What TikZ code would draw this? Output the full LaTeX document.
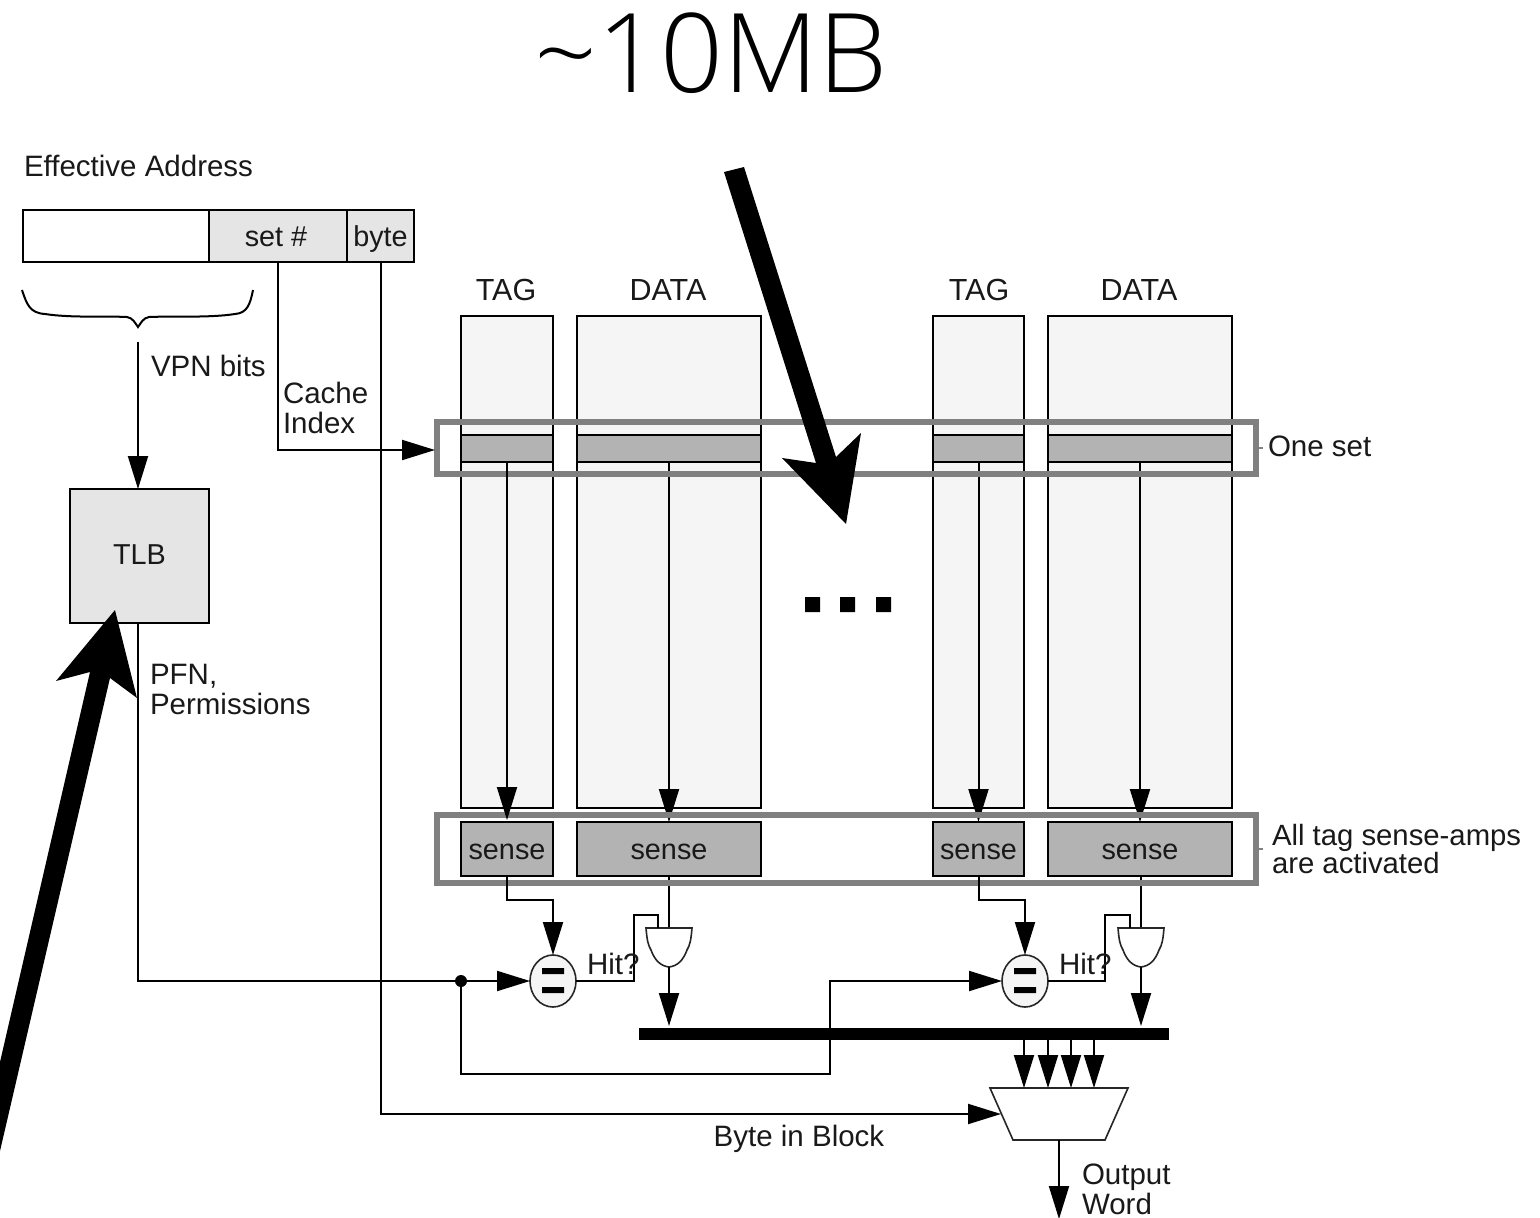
\documentclass[tikz,border=0pt]{standalone}
\usepackage{fontspec}
\setmainfont{Liberation Sans}
\newfontfamily\lightfont{Open Sans Light}
\usetikzlibrary{arrows.meta,shapes.geometric,calc}
\definecolor{fieldgrey}{HTML}{E5E5E5}
\definecolor{colgrey}{HTML}{F5F5F5}
\definecolor{stripgrey}{HTML}{B3B3B3}
\definecolor{bandgrey}{HTML}{808080}
\tikzset{
  lbl/.style={inner sep=0pt,outer sep=0pt,align=left,font=\fontsize{29.5}{30}\selectfont,text=black!90},
  lblw/.style={lbl,anchor=west},
  headlbl/.style={lbl,font=\fontsize{30.5}{30}\selectfont},
  cell/.style n args={3}{draw=black,line width=2pt,fill=#3,inner sep=0pt,outer sep=0pt,anchor=north west,
     minimum width=#1pt,minimum height=#2pt,text height=20pt,text depth=0pt,font=\fontsize{28.8}{30}\selectfont,text=black!90},
  conn/.style={draw=black,line width=2pt},
  arr/.style={conn,-{Triangle[length=33pt,width=20pt]}},
  band/.style={draw=bandgrey,line width=5.5pt},
  leader/.style={draw=bandgrey,line width=1.5pt},
  gate/.style={draw=black!85,line width=1.6pt,fill=white},
  eqnode/.style={ellipse,draw=black!85,line width=1.6pt,fill=colgrey,inner sep=0pt,outer sep=0pt,minimum width=46pt,minimum height=52pt},
  bigarrow/.style={fill=black,draw=none},
}
\begin{document}
\begin{tikzpicture}[x=1pt,y=-1pt]
\useasboundingbox[fill=white] (0,0) rectangle (1540,1218);

% title
\node[inner sep=0pt,anchor=base,font=\fontsize{110}{110}\selectfont\lightfont] (title) at (711,92) {\string~10MB};
\node[lblw] (ea) at (24,166) {Effective Address};

% address
\node[cell={186}{52}{white}] (addr) at (23,210) {};
\node[cell={138}{52}{fieldgrey}] (setn) at (209,210) {\hspace*{-4pt}set \#};
\node[cell={67}{52}{fieldgrey}] (byte) at (347,210) {byte};

% brace
\draw[line width=2pt] (22,290) .. controls (27,305) and (30,313) .. (45,314)
  .. controls (70,318) and (110,316) .. (127,317) .. controls (133,318) and (135,323) .. (138,327)
  .. controls (141,323) and (143,318) .. (149,317) .. controls (170,316) and (210,318) .. (235,314)
  .. controls (247,313) and (250,305) .. (253,290);

% TLB
\node[cell={139}{134}{fieldgrey},text depth=3pt] (tlb) at (70,489) {TLB};
\coordinate (vpn) at (138,342);

% columns
\node[cell={92}{492}{colgrey}] (tag1) at (461,316) {};
\node[cell={184}{492}{colgrey}] (data1) at (577,316) {};
\node[cell={91}{492}{colgrey}] (tag2) at (933,316) {};
\node[cell={184}{492}{colgrey}] (data2) at (1048,316) {};
\node[headlbl] (tl1) at (506,290) {TAG};
\node[headlbl] (dl1) at (668,290) {DATA};
\node[headlbl] (tl2) at (979,290) {TAG};
\node[headlbl] (dl2) at (1139,290) {DATA};

% set strips
\node[cell={92}{27}{stripgrey}] (st1) at (461,435) {};
\node[cell={184}{27}{stripgrey}] (sd1) at (577,435) {};
\node[cell={91}{27}{stripgrey}] (st2) at (933,435) {};
\node[cell={184}{27}{stripgrey}] (sd2) at (1048,435) {};

% sense amps
\node[cell={92}{54}{stripgrey}] (at1) at (461,822) {sense};
\node[cell={184}{54}{stripgrey}] (ad1) at (577,822) {sense};
\node[cell={91}{54}{stripgrey}] (at2) at (933,822) {sense};
\node[cell={184}{54}{stripgrey}] (ad2) at (1048,822) {sense};

% comparators
\node[eqnode] (eq1) at (553,981) {};
\node[eqnode] (eq2) at (1025,981) {};
\fill[black] (542,968) rectangle (564,974) (542,987) rectangle (564,993);
\fill[black] (1014,968) rectangle (1036,974) (1014,987) rectangle (1036,993);

% bus
\node[fill=black,inner sep=0pt,outer sep=0pt,anchor=north west,minimum width=530pt,minimum height=12pt] (bus) at (639,1028) {};

% column read lines
\draw[arr] (sd1.south) -- (ad1.north);
\draw[arr] (st2.south) -- (at2.north);
\draw[arr] (sd2.south) -- (ad2.north);

% data to gates
\coordinate (g1t) at (669,928);
\coordinate (g1b) at (669,967);
\coordinate (g2t) at (1141,928);
\coordinate (g2b) at (1141,967);
\coordinate (g1h) at (658,928);
\coordinate (g2h) at (1130,928);
\coordinate (b1) at (669,1026);
\coordinate (b2) at (1141,1026);
\draw[conn] (g1t |- ad1.south) -- (g1t);
\draw[conn] (g2t |- ad2.south) -- (g2t);

% grey bands
\draw[band] (437,422) rectangle (1256,474);
\draw[band] (437,815) rectangle (1256,883);
\coordinate (os) at (1263,448);
\coordinate (oa) at (1263,849);
\draw[leader] (1258,448) -- (os);
\draw[leader] (1258,849) -- (oa);
\draw[arr] (st1.south) -- ([yshift=2pt]at1.north);

\node[lblw] at (1268,446) (oneset) {One set};
\node[lblw,font=\fontsize{29.3}{28}\selectfont] at (1272,849) (alltag) {All tag sense-amps\\are activated};

% gates
\begin{scope}[shift={(669,928)}]
\draw[gate] (-23,0) -- (23,0) .. controls (22,12) and (21,17) .. (18,22) .. controls (14,33) and (8,38) .. (0,39)
  .. controls (-8,38) and (-14,33) .. (-18,22) .. controls (-21,17) and (-22,12) .. (-23,0) -- cycle;
\end{scope}
\begin{scope}[shift={(1141,928)}]
\draw[gate] (-23,0) -- (23,0) .. controls (22,12) and (21,17) .. (18,22) .. controls (14,33) and (8,38) .. (0,39)
  .. controls (-8,38) and (-14,33) .. (-18,22) .. controls (-21,17) and (-22,12) .. (-23,0) -- cycle;
\end{scope}
\draw[arr] (g1b) -- (b1);
\draw[arr] (g2b) -- (b2);

% sense to comparators
\draw[arr] (at1.south) -- ++(0,24) -| (eq1.north);
\draw[arr] (at2.south) -- ++(0,24) -| (eq2.north);

% hit lines
\draw[conn] (eq1.east) -- (634,981) -- (634,915) -- (658,915) -- (g1h);
\draw[conn] (eq2.east) -- (1105,981) -- (1105,915) -- (1130,915) -- (g2h);
\node[lblw] (hit1) at (587,964) {Hit?};
\node[lblw] (hit2) at (1059,964) {Hit?};

% left connectors
\draw[arr] (vpn) -- (vpn |- tlb.north);
\node[lblw] (vpnl) at (151,366) {VPN bits};
\coordinate (setx) at (278,262);
\coordinate (bytex) at (381,262);
\coordinate (bandin) at (435,450);
\draw[arr] (setx) |- (bandin);
\node[lblw] (cidx) at (283,408) {Cache\\Index};
\node[lblw] (pfn) at (150,689) {PFN,\\Permissions};

% tag compare
\node[circle,fill=black,inner sep=0pt,outer sep=0pt,minimum size=12pt] (dot) at (461,981) {};
\draw[arr] ($(tlb.south west)+(68,0)$) |- (eq1.west);
\draw[arr] (dot) -- (461,1074) -- (830,1074) |- (eq2.west);

% mux
\coordinate (m1) at (1024,1088);
\coordinate (m2) at (1048,1088);
\coordinate (m3) at (1071,1088);
\coordinate (m4) at (1094,1088);
\coordinate (mi) at (1001,1114);
\coordinate (mo) at (1059,1140);
\coordinate (oe) at (1059,1219);
\draw[arr] (bus.south -| m1) -- (m1);
\draw[arr] (bus.south -| m2) -- (m2);
\draw[arr] (bus.south -| m3) -- (m3);
\draw[arr] (bus.south -| m4) -- (m4);
\draw[gate] (990,1088) -- (1128,1088) -- (1105,1140) -- (1013,1140) -- cycle;
\draw[arr] (bytex) |- (mi);
\draw[arr] (mo) -- (oe);
\node[lbl] (bib) at (799,1139) {Byte in Block};
\node[lblw] (ow) at (1082,1189) {Output\\Word};

% ellipsis
\fill[black] (805,597) rectangle (820,612) (840,597) rectangle (855,612) (876,597) rectangle (891,612);

% big arrows
\fill[bigarrow] (724,172) -- (744,167) -- (836,457) -- (861,433) -- (846,524) -- (782,458) -- (816,463) -- cycle;
\fill[bigarrow] (0,1062) -- (90,672) -- (56,681) -- (115,610) -- (137,698) -- (110,678) -- (0,1151) -- cycle;
\end{tikzpicture}
\end{document}
